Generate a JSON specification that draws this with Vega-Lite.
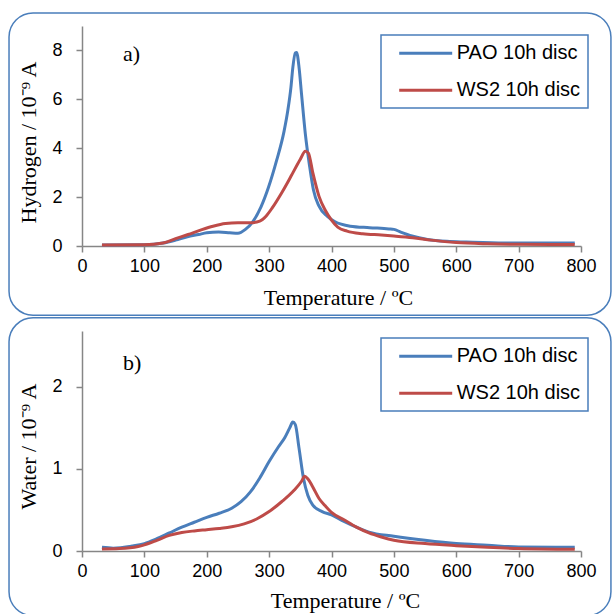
{
  "$schema": "https://vega.github.io/schema/vega-lite/v6.json",
  "padding": {"left": 8, "top": 12, "right": 0, "bottom": 0},
  "spacing": 1,
  "background": "white",
  "datasets": {
    "h": [
      {"T": 32, "v": 0.04, "s": "PAO 10h disc"},
      {"T": 100, "v": 0.05, "s": "PAO 10h disc"},
      {"T": 130, "v": 0.12, "s": "PAO 10h disc"},
      {"T": 150, "v": 0.24, "s": "PAO 10h disc"},
      {"T": 169, "v": 0.38, "s": "PAO 10h disc"},
      {"T": 187, "v": 0.47, "s": "PAO 10h disc"},
      {"T": 200, "v": 0.54, "s": "PAO 10h disc"},
      {"T": 219, "v": 0.57, "s": "PAO 10h disc"},
      {"T": 237, "v": 0.54, "s": "PAO 10h disc"},
      {"T": 250, "v": 0.52, "s": "PAO 10h disc"},
      {"T": 262, "v": 0.68, "s": "PAO 10h disc"},
      {"T": 274, "v": 1.0, "s": "PAO 10h disc"},
      {"T": 287, "v": 1.6, "s": "PAO 10h disc"},
      {"T": 299, "v": 2.4, "s": "PAO 10h disc"},
      {"T": 312, "v": 3.5, "s": "PAO 10h disc"},
      {"T": 324, "v": 4.7, "s": "PAO 10h disc"},
      {"T": 330, "v": 5.55, "s": "PAO 10h disc"},
      {"T": 335, "v": 6.5, "s": "PAO 10h disc"},
      {"T": 338, "v": 7.3, "s": "PAO 10h disc"},
      {"T": 342, "v": 7.9, "s": "PAO 10h disc"},
      {"T": 344, "v": 7.92, "s": "PAO 10h disc"},
      {"T": 348, "v": 7.3, "s": "PAO 10h disc"},
      {"T": 352, "v": 6.2, "s": "PAO 10h disc"},
      {"T": 358, "v": 4.6, "s": "PAO 10h disc"},
      {"T": 365, "v": 3.25, "s": "PAO 10h disc"},
      {"T": 371, "v": 2.3, "s": "PAO 10h disc"},
      {"T": 380, "v": 1.63, "s": "PAO 10h disc"},
      {"T": 393, "v": 1.22, "s": "PAO 10h disc"},
      {"T": 405, "v": 1.0, "s": "PAO 10h disc"},
      {"T": 430, "v": 0.81, "s": "PAO 10h disc"},
      {"T": 461, "v": 0.75, "s": "PAO 10h disc"},
      {"T": 492, "v": 0.7, "s": "PAO 10h disc"},
      {"T": 500, "v": 0.68, "s": "PAO 10h disc"},
      {"T": 511, "v": 0.57, "s": "PAO 10h disc"},
      {"T": 529, "v": 0.41, "s": "PAO 10h disc"},
      {"T": 554, "v": 0.27, "s": "PAO 10h disc"},
      {"T": 585, "v": 0.19, "s": "PAO 10h disc"},
      {"T": 616, "v": 0.16, "s": "PAO 10h disc"},
      {"T": 678, "v": 0.12, "s": "PAO 10h disc"},
      {"T": 790, "v": 0.12, "s": "PAO 10h disc"},
      {"T": 32, "v": 0.04, "s": "WS2 10h disc"},
      {"T": 100, "v": 0.05, "s": "WS2 10h disc"},
      {"T": 130, "v": 0.12, "s": "WS2 10h disc"},
      {"T": 150, "v": 0.3, "s": "WS2 10h disc"},
      {"T": 170, "v": 0.47, "s": "WS2 10h disc"},
      {"T": 190, "v": 0.65, "s": "WS2 10h disc"},
      {"T": 210, "v": 0.81, "s": "WS2 10h disc"},
      {"T": 230, "v": 0.92, "s": "WS2 10h disc"},
      {"T": 250, "v": 0.95, "s": "WS2 10h disc"},
      {"T": 270, "v": 0.95, "s": "WS2 10h disc"},
      {"T": 285, "v": 1.02, "s": "WS2 10h disc"},
      {"T": 295, "v": 1.22, "s": "WS2 10h disc"},
      {"T": 305, "v": 1.56, "s": "WS2 10h disc"},
      {"T": 320, "v": 2.17, "s": "WS2 10h disc"},
      {"T": 335, "v": 2.85, "s": "WS2 10h disc"},
      {"T": 350, "v": 3.55, "s": "WS2 10h disc"},
      {"T": 358, "v": 3.88, "s": "WS2 10h disc"},
      {"T": 363, "v": 3.8, "s": "WS2 10h disc"},
      {"T": 370, "v": 3.0, "s": "WS2 10h disc"},
      {"T": 380, "v": 2.03, "s": "WS2 10h disc"},
      {"T": 390, "v": 1.46, "s": "WS2 10h disc"},
      {"T": 400, "v": 1.06, "s": "WS2 10h disc"},
      {"T": 410, "v": 0.77, "s": "WS2 10h disc"},
      {"T": 425, "v": 0.61, "s": "WS2 10h disc"},
      {"T": 450, "v": 0.5, "s": "WS2 10h disc"},
      {"T": 480, "v": 0.45, "s": "WS2 10h disc"},
      {"T": 500, "v": 0.41, "s": "WS2 10h disc"},
      {"T": 530, "v": 0.34, "s": "WS2 10h disc"},
      {"T": 560, "v": 0.24, "s": "WS2 10h disc"},
      {"T": 600, "v": 0.14, "s": "WS2 10h disc"},
      {"T": 650, "v": 0.09, "s": "WS2 10h disc"},
      {"T": 700, "v": 0.07, "s": "WS2 10h disc"},
      {"T": 790, "v": 0.06, "s": "WS2 10h disc"}
    ],
    "w": [
      {"T": 32, "v": 0.045, "s": "PAO 10h disc"},
      {"T": 50, "v": 0.035, "s": "PAO 10h disc"},
      {"T": 80, "v": 0.06, "s": "PAO 10h disc"},
      {"T": 100, "v": 0.09, "s": "PAO 10h disc"},
      {"T": 120, "v": 0.15, "s": "PAO 10h disc"},
      {"T": 140, "v": 0.22, "s": "PAO 10h disc"},
      {"T": 160, "v": 0.29, "s": "PAO 10h disc"},
      {"T": 180, "v": 0.35, "s": "PAO 10h disc"},
      {"T": 200, "v": 0.41, "s": "PAO 10h disc"},
      {"T": 220, "v": 0.46, "s": "PAO 10h disc"},
      {"T": 240, "v": 0.52, "s": "PAO 10h disc"},
      {"T": 255, "v": 0.6, "s": "PAO 10h disc"},
      {"T": 270, "v": 0.72, "s": "PAO 10h disc"},
      {"T": 285, "v": 0.89, "s": "PAO 10h disc"},
      {"T": 300, "v": 1.09, "s": "PAO 10h disc"},
      {"T": 315, "v": 1.27, "s": "PAO 10h disc"},
      {"T": 325, "v": 1.38, "s": "PAO 10h disc"},
      {"T": 333, "v": 1.5, "s": "PAO 10h disc"},
      {"T": 338, "v": 1.57, "s": "PAO 10h disc"},
      {"T": 342, "v": 1.54, "s": "PAO 10h disc"},
      {"T": 348, "v": 1.25, "s": "PAO 10h disc"},
      {"T": 355, "v": 0.89, "s": "PAO 10h disc"},
      {"T": 362, "v": 0.68, "s": "PAO 10h disc"},
      {"T": 370, "v": 0.56, "s": "PAO 10h disc"},
      {"T": 385, "v": 0.48, "s": "PAO 10h disc"},
      {"T": 400, "v": 0.44, "s": "PAO 10h disc"},
      {"T": 420, "v": 0.36, "s": "PAO 10h disc"},
      {"T": 440, "v": 0.29, "s": "PAO 10h disc"},
      {"T": 460, "v": 0.23, "s": "PAO 10h disc"},
      {"T": 500, "v": 0.18, "s": "PAO 10h disc"},
      {"T": 550, "v": 0.13, "s": "PAO 10h disc"},
      {"T": 600, "v": 0.09, "s": "PAO 10h disc"},
      {"T": 650, "v": 0.07, "s": "PAO 10h disc"},
      {"T": 700, "v": 0.05, "s": "PAO 10h disc"},
      {"T": 790, "v": 0.045, "s": "PAO 10h disc"},
      {"T": 32, "v": 0.025, "s": "WS2 10h disc"},
      {"T": 60, "v": 0.03, "s": "WS2 10h disc"},
      {"T": 90, "v": 0.055, "s": "WS2 10h disc"},
      {"T": 100, "v": 0.075, "s": "WS2 10h disc"},
      {"T": 120, "v": 0.13, "s": "WS2 10h disc"},
      {"T": 140, "v": 0.19, "s": "WS2 10h disc"},
      {"T": 160, "v": 0.225, "s": "WS2 10h disc"},
      {"T": 180, "v": 0.245, "s": "WS2 10h disc"},
      {"T": 200, "v": 0.26, "s": "WS2 10h disc"},
      {"T": 220, "v": 0.275, "s": "WS2 10h disc"},
      {"T": 240, "v": 0.295, "s": "WS2 10h disc"},
      {"T": 260, "v": 0.33, "s": "WS2 10h disc"},
      {"T": 280, "v": 0.39, "s": "WS2 10h disc"},
      {"T": 300, "v": 0.48, "s": "WS2 10h disc"},
      {"T": 320, "v": 0.6, "s": "WS2 10h disc"},
      {"T": 340, "v": 0.74, "s": "WS2 10h disc"},
      {"T": 352, "v": 0.85, "s": "WS2 10h disc"},
      {"T": 357, "v": 0.91, "s": "WS2 10h disc"},
      {"T": 362, "v": 0.88, "s": "WS2 10h disc"},
      {"T": 370, "v": 0.78, "s": "WS2 10h disc"},
      {"T": 380, "v": 0.64, "s": "WS2 10h disc"},
      {"T": 390, "v": 0.55, "s": "WS2 10h disc"},
      {"T": 400, "v": 0.47, "s": "WS2 10h disc"},
      {"T": 420, "v": 0.38, "s": "WS2 10h disc"},
      {"T": 440, "v": 0.29, "s": "WS2 10h disc"},
      {"T": 460, "v": 0.22, "s": "WS2 10h disc"},
      {"T": 480, "v": 0.17, "s": "WS2 10h disc"},
      {"T": 500, "v": 0.13, "s": "WS2 10h disc"},
      {"T": 550, "v": 0.09, "s": "WS2 10h disc"},
      {"T": 600, "v": 0.065, "s": "WS2 10h disc"},
      {"T": 650, "v": 0.045, "s": "WS2 10h disc"},
      {"T": 700, "v": 0.03, "s": "WS2 10h disc"},
      {"T": 790, "v": 0.02, "s": "WS2 10h disc"}
    ]
  },
  "vconcat": [
    {
      "width": 499,
      "height": 220,
      "layer": [
        {
          "data": {"values": [{}]},
          "mark": {"type": "rect", "filled": false, "stroke": "#4a7ebb", "strokeWidth": 1.5, "cornerRadius": 24},
          "encoding": {
            "x": {"datum": -117, "type": "quantitative", "scale": {"domain": [0, 800], "nice": false}},
            "x2": {"datum": 848},
            "y": {"datum": 9.53, "type": "quantitative", "scale": {"domain": [0, 9], "nice": false}},
            "y2": {"datum": -2.83}
          }
        },
        {
          "data": {"name": "h"},
          "mark": {"type": "line", "strokeWidth": 3, "interpolate": "monotone"},
          "encoding": {
            "x": {"field": "T", "type": "quantitative", "scale": {"domain": [0, 800], "nice": false},
              "axis": {"values": [0, 100, 200, 300, 400, 500, 600, 700, 800], "title": "Temperature / ºC", "titleX": 256, "titlePadding": 12}},
            "y": {"field": "v", "type": "quantitative", "scale": {"domain": [0, 9], "nice": false},
              "axis": {"values": [0, 2, 4, 6, 8], "format": "d", "title": "Hydrogen / 10⁻⁹ A", "titleY": 116}},
            "color": {"field": "s", "type": "nominal", "sort": null,
              "scale": {"domain": ["PAO 10h disc", "WS2 10h disc"], "range": ["#4a7ebb", "#be4b48"]},
              "legend": {"orient": "none", "legendX": 299, "legendY": 9, "title": null}}
          }
        },
        {
          "data": {"values": [{}]},
          "mark": {"type": "text", "text": "a)", "font": "Liberation Serif", "fontSize": 22, "align": "left", "baseline": "alphabetic", "color": "black"},
          "encoding": {"x": {"datum": 65.7, "type": "quantitative"}, "y": {"datum": 7.55, "type": "quantitative"}}
        }
      ]
    },
    {
      "width": 499,
      "height": 220,
      "layer": [
        {
          "data": {"values": [{}]},
          "mark": {"type": "rect", "filled": false, "stroke": "#4a7ebb", "strokeWidth": 1.5, "cornerRadius": 24},
          "encoding": {
            "x": {"datum": -117, "type": "quantitative", "scale": {"domain": [0, 800], "nice": false}},
            "x2": {"datum": 848},
            "y": {"datum": 2.84, "type": "quantitative", "scale": {"domain": [0, 2.68], "nice": false}},
            "y2": {"datum": -0.79}
          }
        },
        {
          "data": {"name": "w"},
          "mark": {"type": "line", "strokeWidth": 3, "interpolate": "monotone"},
          "encoding": {
            "x": {"field": "T", "type": "quantitative", "scale": {"domain": [0, 800], "nice": false},
              "axis": {"values": [0, 100, 200, 300, 400, 500, 600, 700, 800], "title": "Temperature / ºC", "titleX": 263, "titlePadding": 10}},
            "y": {"field": "v", "type": "quantitative", "scale": {"domain": [0, 2.68], "nice": false},
              "axis": {"values": [0, 1, 2], "format": "d", "title": "Water / 10⁻⁹ A", "titleY": 115}},
            "color": {"field": "s", "type": "nominal", "sort": null,
              "scale": {"domain": ["PAO 10h disc", "WS2 10h disc"], "range": ["#4a7ebb", "#be4b48"]},
              "legend": {"orient": "none", "legendX": 299, "legendY": 7, "title": null}}
          }
        },
        {
          "data": {"values": [{}]},
          "mark": {"type": "text", "text": "b)", "font": "Liberation Serif", "fontSize": 22, "align": "left", "baseline": "alphabetic", "color": "black"},
          "encoding": {"x": {"datum": 65.7, "type": "quantitative"}, "y": {"datum": 2.2, "type": "quantitative"}}
        }
      ]
    }
  ],
  "resolve": {"scale": {"color": "independent", "x": "independent", "y": "independent"}},
  "config": {
    "view": {"stroke": null},
    "axis": {
      "grid": false,
      "domainColor": "#868686",
      "domainWidth": 1.5,
      "tickColor": "#868686",
      "tickWidth": 1.5,
      "tickSize": 6,
      "labelFont": "Liberation Sans",
      "labelFontSize": 18,
      "labelColor": "black",
      "titleFont": "Liberation Serif",
      "titleFontSize": 22,
      "titleFontWeight": "normal",
      "titleColor": "black"
    },
    "axisX": {"labelPadding": 5, "labelFlush": false},
    "axisY": {"labelPadding": 14, "titlePadding": 11, "labelFlush": false},
    "legend": {
      "symbolType": "M0,0H6",
      "symbolSize": 312,
      "symbolStrokeWidth": 3,
      "labelFont": "Liberation Sans",
      "labelFontSize": 20,
      "labelColor": "black",
      "labelOffset": 47,
      "strokeColor": "#4a7ebb",
      "strokeWidth": 1.5,
      "padding": 7.7,
      "rowPadding": 16,
      "fillColor": "white"
    }
  }
}
